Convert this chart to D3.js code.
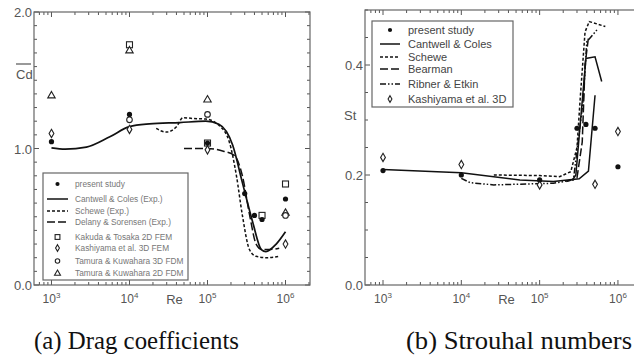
<!DOCTYPE html>
<html lang="en">
<head>
<meta charset="UTF-8">
<title>Drag coefficients and Strouhal numbers</title>
<script src="https://d3js.org/d3.v7.min.js"></script>
<style>
  body { margin: 0; background: #fff; }
  svg { display: block; }
  .frame { fill: none; stroke: #666; stroke-width: 1.2px; }
  .tick { stroke: #555; stroke-width: 1px; }
  .lbl { font-family: "Liberation Sans", Arial, sans-serif; fill: #555; }
  .caption { font-family: "Liberation Serif", "Times New Roman", serif; font-size: 25px; fill: #111; }
  .curve { fill: none; stroke: #111; stroke-width: 1.5px; }
  .leg { fill: none; stroke: #666; stroke-width: 1.2px; }
</style>
</head>
<body>
<div id="chart"></div>
<script>
// ---- data: drag coefficients (left) ----
const presentCdRe = [1e3, 1e4, 1e5, 3e5, 4e5, 5e5, 1e6];
const presentCd   = [1.05, 1.25, 1.04, 0.67, 0.51, 0.48, 0.63];
const kakudaRe = [1e4, 1e5, 5e5, 1e6];
const kakudaCd = [1.76, 1.04, 0.51, 0.74];
const kashiCdRe = [1e3, 1e4, 1e5, 1e6];
const kashiCd   = [1.11, 1.14, 0.99, 0.30];
const tam3Re = [1e4, 1e5, 1e6];
const tam3Cd = [1.21, 1.25, 0.51];
const tam2Re = [1e3, 1e4, 1e5, 1e6];
const tam2Cd = [1.39, 1.72, 1.36, 0.53];

const cantCdRe = [1e3, 1.5e3, 2.8e3, 5.6e3, 1e4, 1.8e4, 4.4e4, 9.5e4, 1.4e5, 2.1e5, 2.8e5, 3.8e5, 4.9e5, 5.6e5, 7.6e5, 1e6];
const cantCd   = [1.005, 0.995, 1.01, 1.086, 1.16, 1.18, 1.19, 1.20, 1.177, 1.025, 0.75, 0.46, 0.26, 0.245, 0.30, 0.39];
const schCdRe = [2.2e4, 2.95e4, 4e4, 4.85e4, 6.5e4, 9.5e4, 1.4e5, 1.9e5, 2.35e5, 2.8e5, 3.45e5, 4.2e5, 5.6e5, 8.3e5];
const schCd   = [1.147, 1.12, 1.16, 1.226, 1.22, 1.216, 1.17, 1.05, 0.80, 0.51, 0.26, 0.21, 0.20, 0.21];
const delRe = [5e4, 1e5, 1.6e5, 2.2e5, 2.8e5, 3.5e5, 4.2e5, 5e5, 6.3e5, 8.3e5];
const delCd = [1.0, 1.0, 0.98, 0.95, 0.8, 0.5, 0.3, 0.26, 0.26, 0.27];

// ---- data: Strouhal numbers (right) ----
const presentStRe = [1e3, 1e4, 1e5, 3e5, 3.9e5, 5.1e5, 1e6];
const presentSt   = [0.208, 0.20, 0.191, 0.285, 0.292, 0.285, 0.215];
const kashiStRe = [1e3, 1e4, 1e5, 5.1e5, 1e6];
const kashiSt   = [0.232, 0.219, 0.182, 0.183, 0.279];

const cantStRe  = [1e3, 1e4, 5.6e4, 1.5e5, 3.2e5, 4.2e5, 5.1e5];
const cantSt    = [0.21, 0.204, 0.191, 0.188, 0.193, 0.207, 0.345];
const cant2StRe = [2.6e5, 2.9e5, 3.9e5, 5.1e5, 6.2e5];
const cant2St   = [0.19, 0.2, 0.412, 0.415, 0.37];
const schStRe = [2.6e4, 1e5, 1.8e5, 2.5e5, 3e5, 3.3e5, 3.8e5, 4.3e5, 6.9e5];
const schSt   = [0.2, 0.199, 0.197, 0.206, 0.25, 0.34, 0.46, 0.479, 0.47];
const bearRe = [2.2e5, 3e5, 3.5e5, 3.8e5, 4.2e5];
const bearSt = [0.188, 0.195, 0.26, 0.40, 0.45];
const ribRe = [1e4, 1.3e4, 2.6e4, 1.5e5, 2.7e5, 3.6e5, 4e5, 5.4e5];
const ribSt = [0.194, 0.186, 0.182, 0.185, 0.191, 0.336, 0.442, 0.464];

const cdLegend = ["present study", "Cantwell & Coles (Exp.)", "Schewe (Exp.)", "Delany & Sorensen (Exp.)",
                  "Kakuda & Tosaka 2D FEM", "Kashiyama et al. 3D FEM", "Tamura & Kuwahara 3D FDM", "Tamura & Kuwahara 2D FDM"];
const stLegend = ["present study", "Cantwell & Coles", "Schewe", "Bearman", "Ribner & Etkin", "Kashiyama et al. 3D"];

const zip = (xs, ys) => xs.map((x, i) => [x, ys[i]]);

const svg = d3.select("#chart").append("svg")
    .attr("width", 634).attr("height", 355);

// dash patterns
const DASH = { solid: null, short: "3,2", long: "8,3", dashdot: "6,2,1.5,2,1.5,2" };

// marker drawing
function marker(g, type, x, y, s) {
    s = s || 1;
    if (type === "dot") {
        g.append("circle").attr("cx", x).attr("cy", y).attr("r", 2.6 * s).attr("fill", "#111");
    } else if (type === "square") {
        g.append("rect").attr("x", x - 3 * s).attr("y", y - 3 * s).attr("width", 6 * s).attr("height", 6 * s)
            .attr("fill", "#fff").attr("stroke", "#222").attr("stroke-width", 1.1);
    } else if (type === "diamond") {
        g.append("path").attr("d", d3.symbol(d3.symbolDiamond, 20 * s * s)()).attr("transform", `translate(${x},${y})`)
            .attr("fill", "#fff").attr("stroke", "#222").attr("stroke-width", 1.1);
    } else if (type === "circle") {
        g.append("circle").attr("cx", x).attr("cy", y).attr("r", 2.8 * s)
            .attr("fill", "#fff").attr("stroke", "#222").attr("stroke-width", 1.1);
    } else if (type === "triangle") {
        g.append("path").attr("d", d3.symbol(d3.symbolTriangle, 24 * s * s)()).attr("transform", `translate(${x},${y + 0.5})`)
            .attr("fill", "#fff").attr("stroke", "#222").attr("stroke-width", 1.1);
    }
}

function panel(opt) {
    const x = d3.scaleLog().domain(opt.xdom).range(opt.xr);
    const y = d3.scaleLinear().domain(opt.ydom).range(opt.yr);
    const g = svg.append("g");

    // log ticks top & bottom
    const [r0, r1] = opt.xr;
    const tv = [];
    for (let e = 2; e <= 6; e++) for (let m = 1; m <= 9; m++) tv.push(m * Math.pow(10, e));
    tv.filter(v => x(v) > r0 + 1 && x(v) < r1 - 1).forEach(v => {
        const major = Math.abs(Math.log10(v) - Math.round(Math.log10(v))) < 1e-9;
        const len = major ? 5 : 3;
        g.append("line").attr("class", "tick").attr("x1", x(v)).attr("x2", x(v))
            .attr("y1", opt.yr[0]).attr("y2", opt.yr[0] - len);
        g.append("line").attr("class", "tick").attr("x1", x(v)).attr("x2", x(v))
            .attr("y1", opt.yr[1]).attr("y2", opt.yr[1] + len);
    });
    // y ticks both sides
    d3.range(opt.ydom[0], opt.ydom[1] + 1e-9, opt.ystep).forEach(v => {
        const major = opt.ymajor.some(m => Math.abs(m - v) < 1e-9);
        const len = major ? 5 : 3;
        g.append("line").attr("class", "tick").attr("x1", r0).attr("x2", r0 + len).attr("y1", y(v)).attr("y2", y(v));
        g.append("line").attr("class", "tick").attr("x1", r1).attr("x2", r1 - len).attr("y1", y(v)).attr("y2", y(v));
    });
    g.append("rect").attr("class", "frame").attr("x", r0).attr("y", opt.yr[1])
        .attr("width", r1 - r0).attr("height", opt.yr[0] - opt.yr[1]);

    // x tick labels
    [1e3, 1e4, 1e5, 1e6].forEach(v => {
        const t = g.append("text").attr("class", "lbl").attr("x", x(v)).attr("y", opt.yr[0] + 18)
            .attr("text-anchor", "middle").style("font-size", "12px");
        t.append("tspan").text("10");
        t.append("tspan").attr("dy", -5).style("font-size", "8px").text(Math.round(Math.log10(v)));
    });
    g.append("text").attr("class", "lbl").attr("x", (x(1e4) + x(1e5)) / 2 + 6).attr("y", opt.yr[0] + 19)
        .attr("text-anchor", "middle").style("font-size", "13px").text("Re");
    // y tick labels
    opt.ylabels.forEach(v => {
        g.append("text").attr("class", "lbl").attr("x", r0 - 2).attr("y", y(v) + 5)
            .attr("text-anchor", "end").style("font-size", "13px").text(v.toFixed(1));
    });

    const line = d3.line().x(d => x(d[0])).y(d => y(d[1])).curve(opt.curve || d3.curveLinear);
    opt.lines.forEach(l => {
        g.append("path").attr("class", "curve").attr("d", line(zip(l.xs, l.ys)))
            .attr("stroke-dasharray", DASH[l.dash]).style("stroke-width", l.w || 1.5);
    });
    opt.points.forEach(p => {
        p.xs.forEach((v, i) => marker(g, p.type, x(v), y(p.ys[i])));
    });
    return { x, y, g };
}

// ---- left: drag coefficients ----
const L = panel({
    xdom: [Math.pow(10, 2.776), Math.pow(10, 6.314)], xr: [34, 310],
    ydom: [0, 2], yr: [285, 12], ystep: 0.1, ymajor: [0, 1, 2], ylabels: [0, 1, 2],
    curve: d3.curveMonotoneX,
    lines: [
        { xs: cantCdRe, ys: cantCd, dash: "solid", w: 1.7 },
        { xs: schCdRe, ys: schCd, dash: "short", w: 1.5 },
        { xs: delRe, ys: delCd, dash: "long", w: 1.5 }
    ],
    points: [
        { type: "square", xs: kakudaRe, ys: kakudaCd },
        { type: "triangle", xs: tam2Re, ys: tam2Cd },
        { type: "circle", xs: tam3Re, ys: tam3Cd },
        { type: "diamond", xs: kashiCdRe, ys: kashiCd },
        { type: "dot", xs: presentCdRe, ys: presentCd }
    ]
});
// Cd label with bar
L.g.append("text").attr("class", "lbl").attr("x", 16).attr("y", 79).style("font-size", "13px").text("Cd");
L.g.append("line").attr("x1", 16).attr("x2", 31).attr("y1", 64).attr("y2", 64).attr("stroke", "#555").attr("stroke-width", 1.2);

// ---- right: Strouhal numbers ----
const R = panel({
    xdom: [Math.pow(10, 2.77), Math.pow(10, 6.32)], xr: [365, 643],
    ydom: [0, 0.5], yr: [285, 10], ystep: 0.05, ymajor: [0, 0.2, 0.4], ylabels: [0, 0.2, 0.4],
    lines: [
        { xs: cantStRe, ys: cantSt, dash: "solid" },
        { xs: cant2StRe, ys: cant2St, dash: "solid" },
        { xs: schStRe, ys: schSt, dash: "short" },
        { xs: bearRe, ys: bearSt, dash: "long" },
        { xs: ribRe, ys: ribSt, dash: "dashdot" }
    ],
    points: [
        { type: "diamond", xs: kashiStRe, ys: kashiSt },
        { type: "dot", xs: presentStRe, ys: presentSt }
    ]
});
R.g.append("text").attr("class", "lbl").attr("x", 344).attr("y", 120).style("font-size", "13px").text("St");

// ---- legends ----
function legend(box, items, kinds, rowsY, fs, col, sym) {
    const g = svg.append("g");
    g.append("rect").attr("class", "leg").attr("x", box[0]).attr("y", box[1])
        .attr("width", box[2]).attr("height", box[3]).attr("fill", "#fff");
    items.forEach((name, i) => {
        const yy = rowsY[i], k = kinds[i];
        if (DASH.hasOwnProperty(k)) {
            g.append("line").attr("class", "curve").attr("x1", sym[0]).attr("x2", sym[1]).attr("y1", yy).attr("y2", yy)
                .attr("stroke-dasharray", DASH[k]);
        } else {
            marker(g, k, (sym[0] + sym[1]) / 2, yy, 0.8);
        }
        g.append("text").attr("x", sym[2]).attr("y", yy + fs * 0.35)
            .style("font-family", "'Liberation Sans', Arial, sans-serif").style("font-size", fs + "px")
            .attr("fill", col).text(name);
    });
}
legend([43, 173, 145, 107], cdLegend,
    ["dot", "solid", "short", "long", "square", "diamond", "circle", "triangle"],
    [184, 199, 211, 222, 237, 248, 261, 273], 8.3, "#777", [47, 68, 75]);
legend([372, 21, 141, 86], stLegend,
    ["dot", "solid", "short", "long", "dashdot", "diamond"],
    [30, 44, 57, 69, 84, 99], 11, "#444", [380, 400, 408]);

// ---- captions ----
svg.append("text").attr("class", "caption").attr("x", 34).attr("y", 349)
    .attr("textLength", 205).attr("lengthAdjust", "spacingAndGlyphs").text("(a) Drag coefficients");
svg.append("text").attr("class", "caption").attr("x", 406).attr("y", 349)
    .attr("textLength", 226).attr("lengthAdjust", "spacingAndGlyphs").text("(b) Strouhal numbers");
</script>
</body>
</html>
